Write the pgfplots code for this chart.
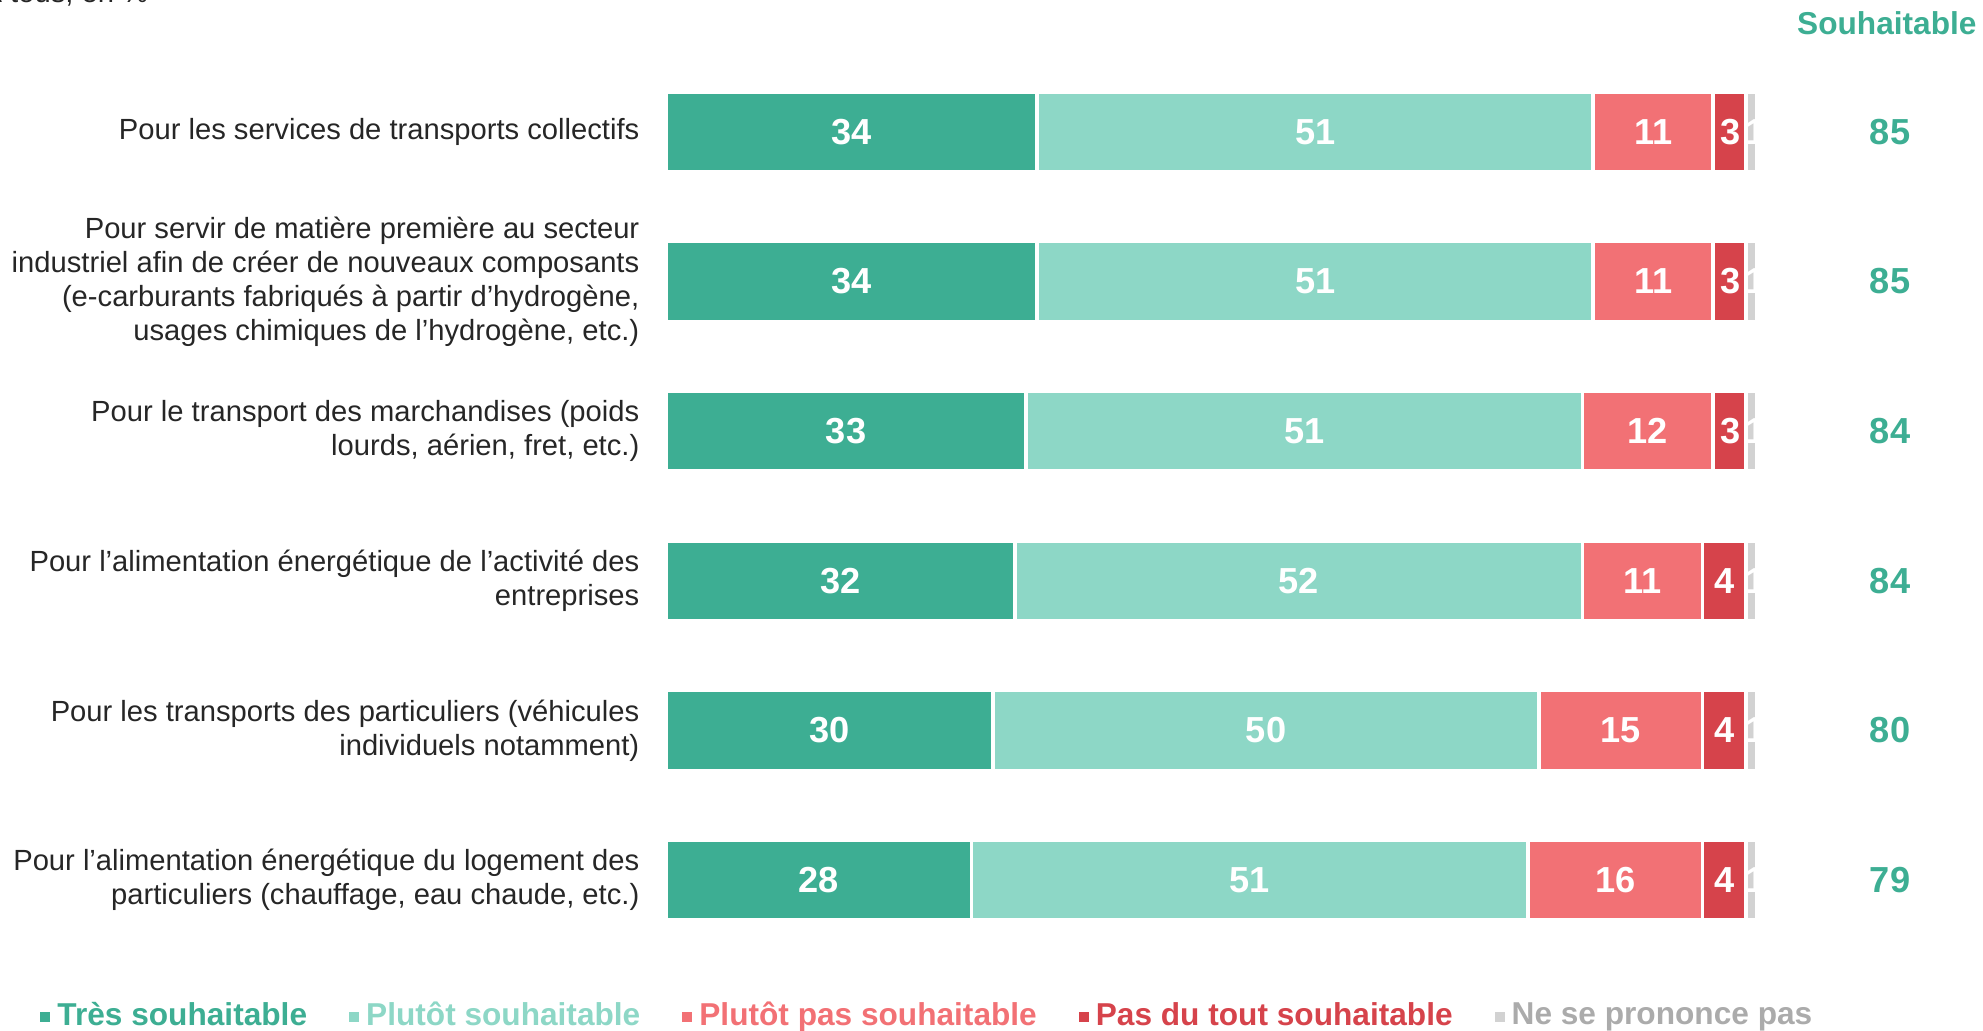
\documentclass[border=0pt]{standalone}
\usepackage{pgfplots}
\pgfplotsset{compat=1.18}
\usepackage{fontspec}
\setmainfont{Liberation Sans}
\definecolor{c1}{HTML}{3DAE93}
\definecolor{c2}{HTML}{8DD7C6}
\definecolor{c3}{HTML}{F27175}
\definecolor{c4}{HTML}{D6434B}
\definecolor{c5}{HTML}{D2D2D2}
\definecolor{c5t}{HTML}{ABABAB}
\definecolor{lab}{HTML}{262626}
\begin{document}
\begin{tikzpicture}
\useasboundingbox (0,0) rectangle (19.83cm,10.30cm);
\node[anchor=base west, text=lab, font=\fontsize{8.3}{9.7}\selectfont, inner sep=0pt] at (-0.18cm,10.27cm) {À tous, en \%};
\begin{axis}[
  at={(6.66cm,0.75cm)}, anchor=south west,
  scale only axis, width=10.91cm, height=8.98cm,
  xbar stacked, bar width=0.80cm,
  xmin=0, xmax=100, ymin=0.5, ymax=6.5, y dir=reverse,
  axis line style={draw=none}, major tick length=0pt,
  xtick=\empty, ytick={1,2,3,4,5,6},
  yticklabels={
    {Pour les services de transports collectifs},
    {Pour servir de matière première au secteur\\industriel afin de créer de nouveaux composants\\(e-carburants fabriqués à partir d’hydrogène,\\usages chimiques de l’hydrogène, etc.)},
    {Pour le transport des marchandises (poids\\lourds, aérien, fret, etc.)},
    {Pour l’alimentation énergétique de l’activité des\\entreprises},
    {Pour les transports des particuliers (véhicules\\individuels notamment)},
    {Pour l’alimentation énergétique du logement des\\particuliers (chauffage, eau chaude, etc.)}},
  yticklabel style={align=right, font=\fontsize{8.3}{9.7}\selectfont, text=lab, inner sep=0pt, xshift=-0.26cm},
  clip=false,
  legend columns=-1,
  legend style={at={(axis cs:-57.4,6.912)}, anchor=west, draw=none, fill=none, inner sep=0pt,
    font=\bfseries\fontsize{9}{10.8}\selectfont,
    /tikz/every even column/.append style={column sep=0.35cm}},
  legend cell align=left,
  legend image code/.code={\draw[#1,draw=none] (0cm,-0.05cm) rectangle (0.1cm,0.05cm);},
]
\addplot[fill=c1, draw=white, line width=1.1pt] coordinates {(34,1) (34,2) (33,3) (32,4) (30,5) (28,6)};
\addplot[fill=c2, draw=white, line width=1.1pt] coordinates {(51,1) (51,2) (51,3) (52,4) (50,5) (51,6)};
\addplot[fill=c3, draw=white, line width=1.1pt] coordinates {(11,1) (11,2) (12,3) (11,4) (15,5) (16,6)};
\addplot[fill=c4, draw=white, line width=1.1pt] coordinates {(3,1) (3,2) (3,3) (4,4) (4,5) (4,6)};
\addplot[fill=c5, draw=white, line width=1.1pt] coordinates {(1,1) (1,2) (1,3) (1,4) (1,5) (1,6)};
\addlegendentry{\textcolor{c1}{Très souhaitable}}
\addlegendentry{\textcolor{c2}{Plutôt souhaitable}}
\addlegendentry{\textcolor{c3}{Plutôt pas souhaitable}}
\addlegendentry{\textcolor{c4}{Pas du tout souhaitable}}
\addlegendentry{\textcolor{c5t}{Ne se prononce pas}}
\end{axis}
\begin{axis}[
  at={(6.66cm,0.75cm)}, anchor=south west,
  scale only axis, width=10.91cm, height=8.98cm,
  xmin=0, xmax=100, ymin=0.5, ymax=6.5, y dir=reverse,
  hide axis, clip=false,
]
\addplot[draw=none, mark=none, nodes near coords={\pgfplotspointmeta}, point meta=explicit symbolic,
  every node near coord/.append style={anchor=center, text=white, font=\bfseries\fontsize{10.3}{12}\selectfont, inner sep=0pt}]
  coordinates {
  (17,1)[34] (59.5,1)[51] (90.5,1)[11] (97.6,1)[3] (99.9,1)[1]
  (17,2)[34] (59.5,2)[51] (90.5,2)[11] (97.6,2)[3] (99.9,2)[1]
  (16.5,3)[33] (58.5,3)[51] (90,3)[12] (97.6,3)[3] (99.9,3)[1]
  (16,4)[32] (58,4)[52] (89.5,4)[11] (97,4)[4] (99.9,4)[1]
  (15,5)[30] (55,5)[50] (87.5,5)[15] (97,5)[4] (99.9,5)[1]
  (14,6)[28] (53.5,6)[51] (87,6)[16] (97,6)[4] (99.9,6)[1]
  };
\addplot[draw=none, mark=none, nodes near coords={\pgfplotspointmeta}, point meta=explicit symbolic,
  every node near coord/.append style={anchor=center, text=c1, font=\bfseries\fontsize{10.3}{12}\selectfont, inner sep=0pt}]
  coordinates {(112.2,1)[85] (112.2,2)[85] (112.2,3)[84] (112.2,4)[84] (112.2,5)[80] (112.2,6)[79]};
\node[text=c1, font=\bfseries\fontsize{9}{11}\selectfont, inner sep=0pt] at (axis cs:111.9,0.275) {Souhaitable};
\end{axis}
\end{tikzpicture}
\end{document}
